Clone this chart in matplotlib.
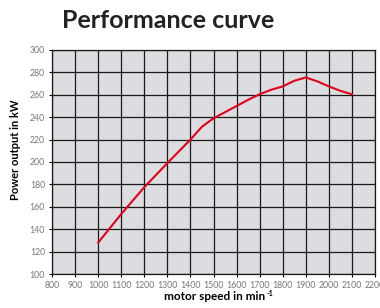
import matplotlib
matplotlib.use('Agg')
import matplotlib.pyplot as plt

# engine speed (1/min) and power (kW)
rpm = [1000, 1100, 1200, 1300, 1400, 1450, 1500, 1550, 1600, 1650,
       1700, 1750, 1800, 1850, 1900, 1950, 2000, 2050, 2100]
power = [128, 153.5, 177.5, 199, 220, 231.5, 239, 244.5, 250, 255.5,
         260.5, 264.5, 267.5, 272.5, 275.5, 272, 267.5, 263.5, 260.5]

x_ticks = list(range(800, 2300, 100))
y_ticks = list(range(100, 320, 20))

plt.rcParams['font.family'] = ['Lato', 'DejaVu Sans']

fig = plt.figure(figsize=(3.8, 3.08), dpi=100)
ax = fig.add_axes([52/380, 1 - 274/308, 323/380, 224/308])
ax.set_facecolor('#dcdde0')

ax.plot(rpm, power, color='#e2001a', linewidth=1.5, zorder=3)

ax.set_xlim(800, 2200)
ax.set_ylim(100, 300)
ax.set_xticks(x_ticks)
ax.set_yticks(y_ticks)
ax.grid(True, color='#1a1a1a', linewidth=0.9)
ax.set_axisbelow(True)
for s in ax.spines.values():
    s.set_color('#1a1a1a')
    s.set_linewidth(0.9)
ax.tick_params(labelsize=6.3, labelcolor='#777777', length=2, width=0.8, pad=3)

ax.set_ylabel('Power output in kW', fontsize=8, fontweight='bold')
ax.yaxis.set_label_coords(-0.097, 0.553)

# x label with a small superscript
base_y = 1 - 300/308
xl = fig.text(215/380, base_y, 'motor speed in min', fontsize=8.5, fontweight='bold',
              ha='center', va='baseline')
fig.canvas.draw()
bb = xl.get_window_extent(renderer=fig.canvas.get_renderer())
fig.text(bb.x1 / 380 + 0.002, base_y + 4.5/308, '-1',
         fontsize=5, fontweight='bold', ha='left', va='baseline')

fig.text(62/380, 1 - 28.5/308, 'Performance curve', fontsize=18, fontweight='bold',
         color='#222222', va='baseline', ha='left')

fig.savefig('out.png', dpi=100)
